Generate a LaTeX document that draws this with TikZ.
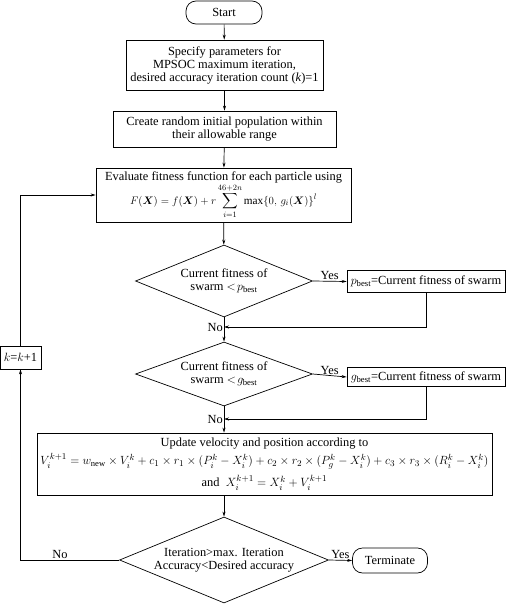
\documentclass[tikz,border=0pt]{standalone}
\usepackage{fontspec}
\setmainfont{Liberation Serif}
\usepackage{amsmath}
\usetikzlibrary{shapes.geometric,arrows.meta}
\begin{document}
\begin{tikzpicture}[x=1pt,y=-1pt,
  every node/.style={font=\fontsize{12.4}{13}\selectfont},
  line/.style={draw, line width=0.7pt},
  arr/.style={line, -{Stealth[length=5pt,width=3pt]}},
  box/.style={line, rectangle, align=center, inner sep=1pt},
  term/.style={line, rectangle, rounded corners=10pt, align=center, inner sep=1pt},
  dia/.style={line, diamond, align=center, inner sep=0pt},
  lab/.style={inner sep=1pt}]
\useasboundingbox (0,0) rectangle (506,605);
\node[term, minimum width=76, minimum height=23] (start) at (224,12.5) {Start};
\node[box, minimum width=197, minimum height=50] (spec) at (224.5,65) {Specify parameters for\\MPSOC maximum iteration,\\desired accuracy iteration count (\textit{k})=1};
\node[box, minimum width=223, minimum height=36] (create) at (224.5,129) {Create random initial population within\\their allowable range};
\node[box, minimum width=255, minimum height=54] (eval) at (223.5,195) {Evaluate fitness function for each particle using\\[0pt]
\resizebox{187pt}{!}{$F(\boldsymbol{X})=f(\boldsymbol{X})+r\displaystyle\sum_{i=1}^{46+2n}\max\{0,\,g_i(\boldsymbol{X})\}^l$}};
\node[dia, aspect=2.46, minimum width=177, minimum height=72] (d1) at (224,281) {Current fitness of\\swarm $<\!p_{\text{best}}$};
\node[box, minimum width=158, minimum height=22] (pb) at (426,281.5) {$p_{\text{best}}$=Current fitness of swarm};
\node[dia, aspect=2.77, minimum width=177, minimum height=64] (d2) at (224,374) {Current fitness of\\swarm $<\!g_{\text{best}}$};
\node[box, minimum width=158, minimum height=19] (gb) at (426,377) {$g_{\text{best}}$=Current fitness of swarm};
\node[box, minimum width=455, minimum height=62] (upd) at (264.5,464) {Update velocity and position according to\\[4pt]
\resizebox{448pt}{!}{$V_i^{k+1}=w_{\text{new}}\times V_i^k+c_1\times r_1\times(P_i^k-X_i^k)+c_2\times r_2\times(P_g^k-X_i^k)+c_3\times r_3\times(R_i^k-X_i^k)$}\\[5pt]
and\ \ $X_i^{k+1}=X_i^k+V_i^{k+1}$};
\node[dia, aspect=2.43, minimum width=209, minimum height=86] (d3) at (224,560) {Iteration{>}max. Iteration\\Accuracy{<}Desired accuracy};
\node[term, minimum width=75, minimum height=25] (term) at (390,560.5) {Terminate};
\node[box, minimum width=41, minimum height=23] (kb) at (20.5,357.5) {$k$=$k$+1};
\coordinate (m1) at (224,327);
\coordinate (m2) at (224,419);
\draw[arr] (start) -- (spec);
\draw[arr] (spec) -- (create);
\draw[arr] (create) -- (eval);
\draw[arr] (eval) -- (d1);
\draw[arr] (d1.east) -- node[lab, above]{Yes} (pb.west);
\draw[arr] (pb.south) |- (m1);
\draw[arr] (d1.south) -- (d2.north);
\node[lab, left] (no1) at (m1) {No};
\draw[arr] (d2.east) -- node[lab, above]{Yes} (gb.west);
\draw[arr] (gb.south) |- (m2);
\draw[arr] (d2.south) -- (d2.south |- upd.north);
\node[lab, left] (no2) at (m2) {No};
\draw[arr] (d3.north |- upd.south) -- (d3.north);
\draw[arr] (d3.east) -- node[lab, above]{Yes} (term.west);
\draw[arr] (d3.west) -| (kb.south);
\node[lab, above] (no3) at (60,560) {No};
\draw[arr] (kb.north) |- (eval.west);
\end{tikzpicture}
\end{document}
